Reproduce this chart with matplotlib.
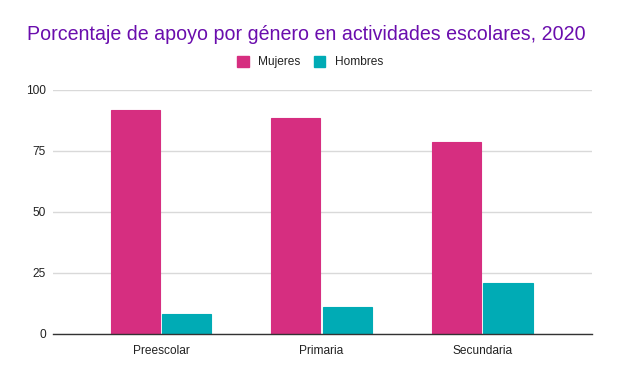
import matplotlib
matplotlib.use("Agg")
import matplotlib.pyplot as plt
import numpy as np
from matplotlib.patches import Patch

categories = ["Preescolar", "Primaria", "Secundaria"]
mujeres = [91.5, 88.5, 78.7]
hombres = [8.2, 11.0, 21.0]
yticks = [0, 25, 50, 75, 100]

c_m = "#D62E80"
c_h = "#00ABB5"

plt.rcParams['font.family'] = ['Liberation Sans', 'DejaVu Sans']
fig = plt.figure(figsize=(6.3, 3.7), dpi=100)
ax = fig.add_axes([0.084, 0.0973, 0.856, 0.6603])

x = np.arange(len(categories))
w = 0.306
gap = 0.008
ax.bar(x - w/2 - gap, mujeres, width=w, color=c_m, edgecolor=c_m, linewidth=0.8, zorder=3)
ax.bar(x + w/2 + gap, hombres, width=w, color=c_h, edgecolor=c_h, linewidth=0.8, zorder=3)

ax.set_xlim(-0.673, 2.685)
ax.set_ylim(0, 100)
ax.set_yticks(yticks)
ax.set_yticklabels([str(v) for v in yticks])
ax.set_xticks(x)
ax.set_xticklabels(categories)
ax.grid(axis='y', color='#d9d9d9', linewidth=1, zorder=0)
for s in ['top', 'right', 'left']:
    ax.spines[s].set_visible(False)
ax.spines['bottom'].set_color('#333333')
ax.spines['bottom'].set_linewidth(1)
ax.spines['bottom'].set_zorder(4)
ax.tick_params(axis='both', length=0, labelsize=8.6, colors='#222222', pad=8)
ax.tick_params(axis='y', pad=5)

fig.text(0.043, 0.908, "Porcentaje de apoyo por género en actividades escolares, 2020",
         fontsize=14.1, color='#6A0DAD', ha='left', va='center')

handles = [Patch(facecolor=c_m, edgecolor=c_m), Patch(facecolor=c_h, edgecolor=c_h)]
fig.legend(handles, ["Mujeres", "Hombres"], loc='center', bbox_to_anchor=(0.492, 0.832),
           ncol=2, frameon=False, fontsize=8.6, handlelength=1.0, handleheight=1.0,
           handletextpad=0.8, columnspacing=1.1, labelcolor='#222222')

fig.savefig("out.png", dpi=100)
